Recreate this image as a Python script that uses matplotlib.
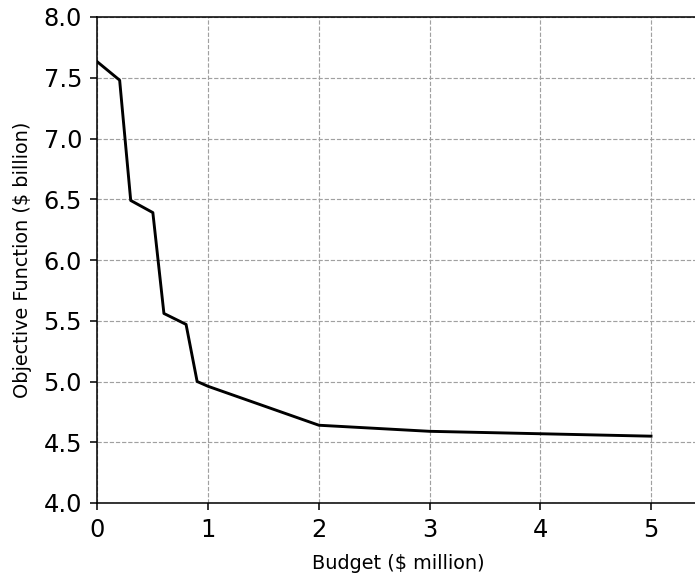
import numpy as np
import matplotlib
matplotlib.use('Agg')
import matplotlib.pyplot as plt

# budget ($ million) vs objective ($ billion)
budget = [0, 0.2, 0.3, 0.5, 0.6, 0.8, 0.9, 1.0, 2.0, 3.0, 4.0, 5.0]
objective = [7.63, 7.48, 6.49, 6.39, 5.56, 5.47, 5.00, 4.96, 4.64, 4.59, 4.57, 4.55]

xticks = [0, 1, 2, 3, 4, 5]
yticks = np.arange(4.0, 8.01, 0.5)

DPI = 139
fig = plt.figure(figsize=(695/DPI, 574/DPI), dpi=DPI)
ax = fig.add_axes([97.5/695, 71/574, 602.5/695, 486/574])

ax.plot(budget, objective, color='black', lw=1.5)
ax.set_xlim(0, 602.5/110.7)
ax.set_ylim(4.0, 8.0)
ax.set_xticks(xticks)
ax.set_yticks(yticks)
ax.set_yticklabels(['%.1f' % v for v in yticks])
ax.tick_params(labelsize=12.5, pad=4.5)
ax.grid(True, linestyle='--', color='#a0a0a0', lw=0.6)
ax.set_xlabel('Budget ($ million)', fontsize=10, labelpad=6)
ax.set_ylabel('Objective Function ($ billion)', fontsize=10, labelpad=6)

fig.savefig('out.png', dpi=DPI)
